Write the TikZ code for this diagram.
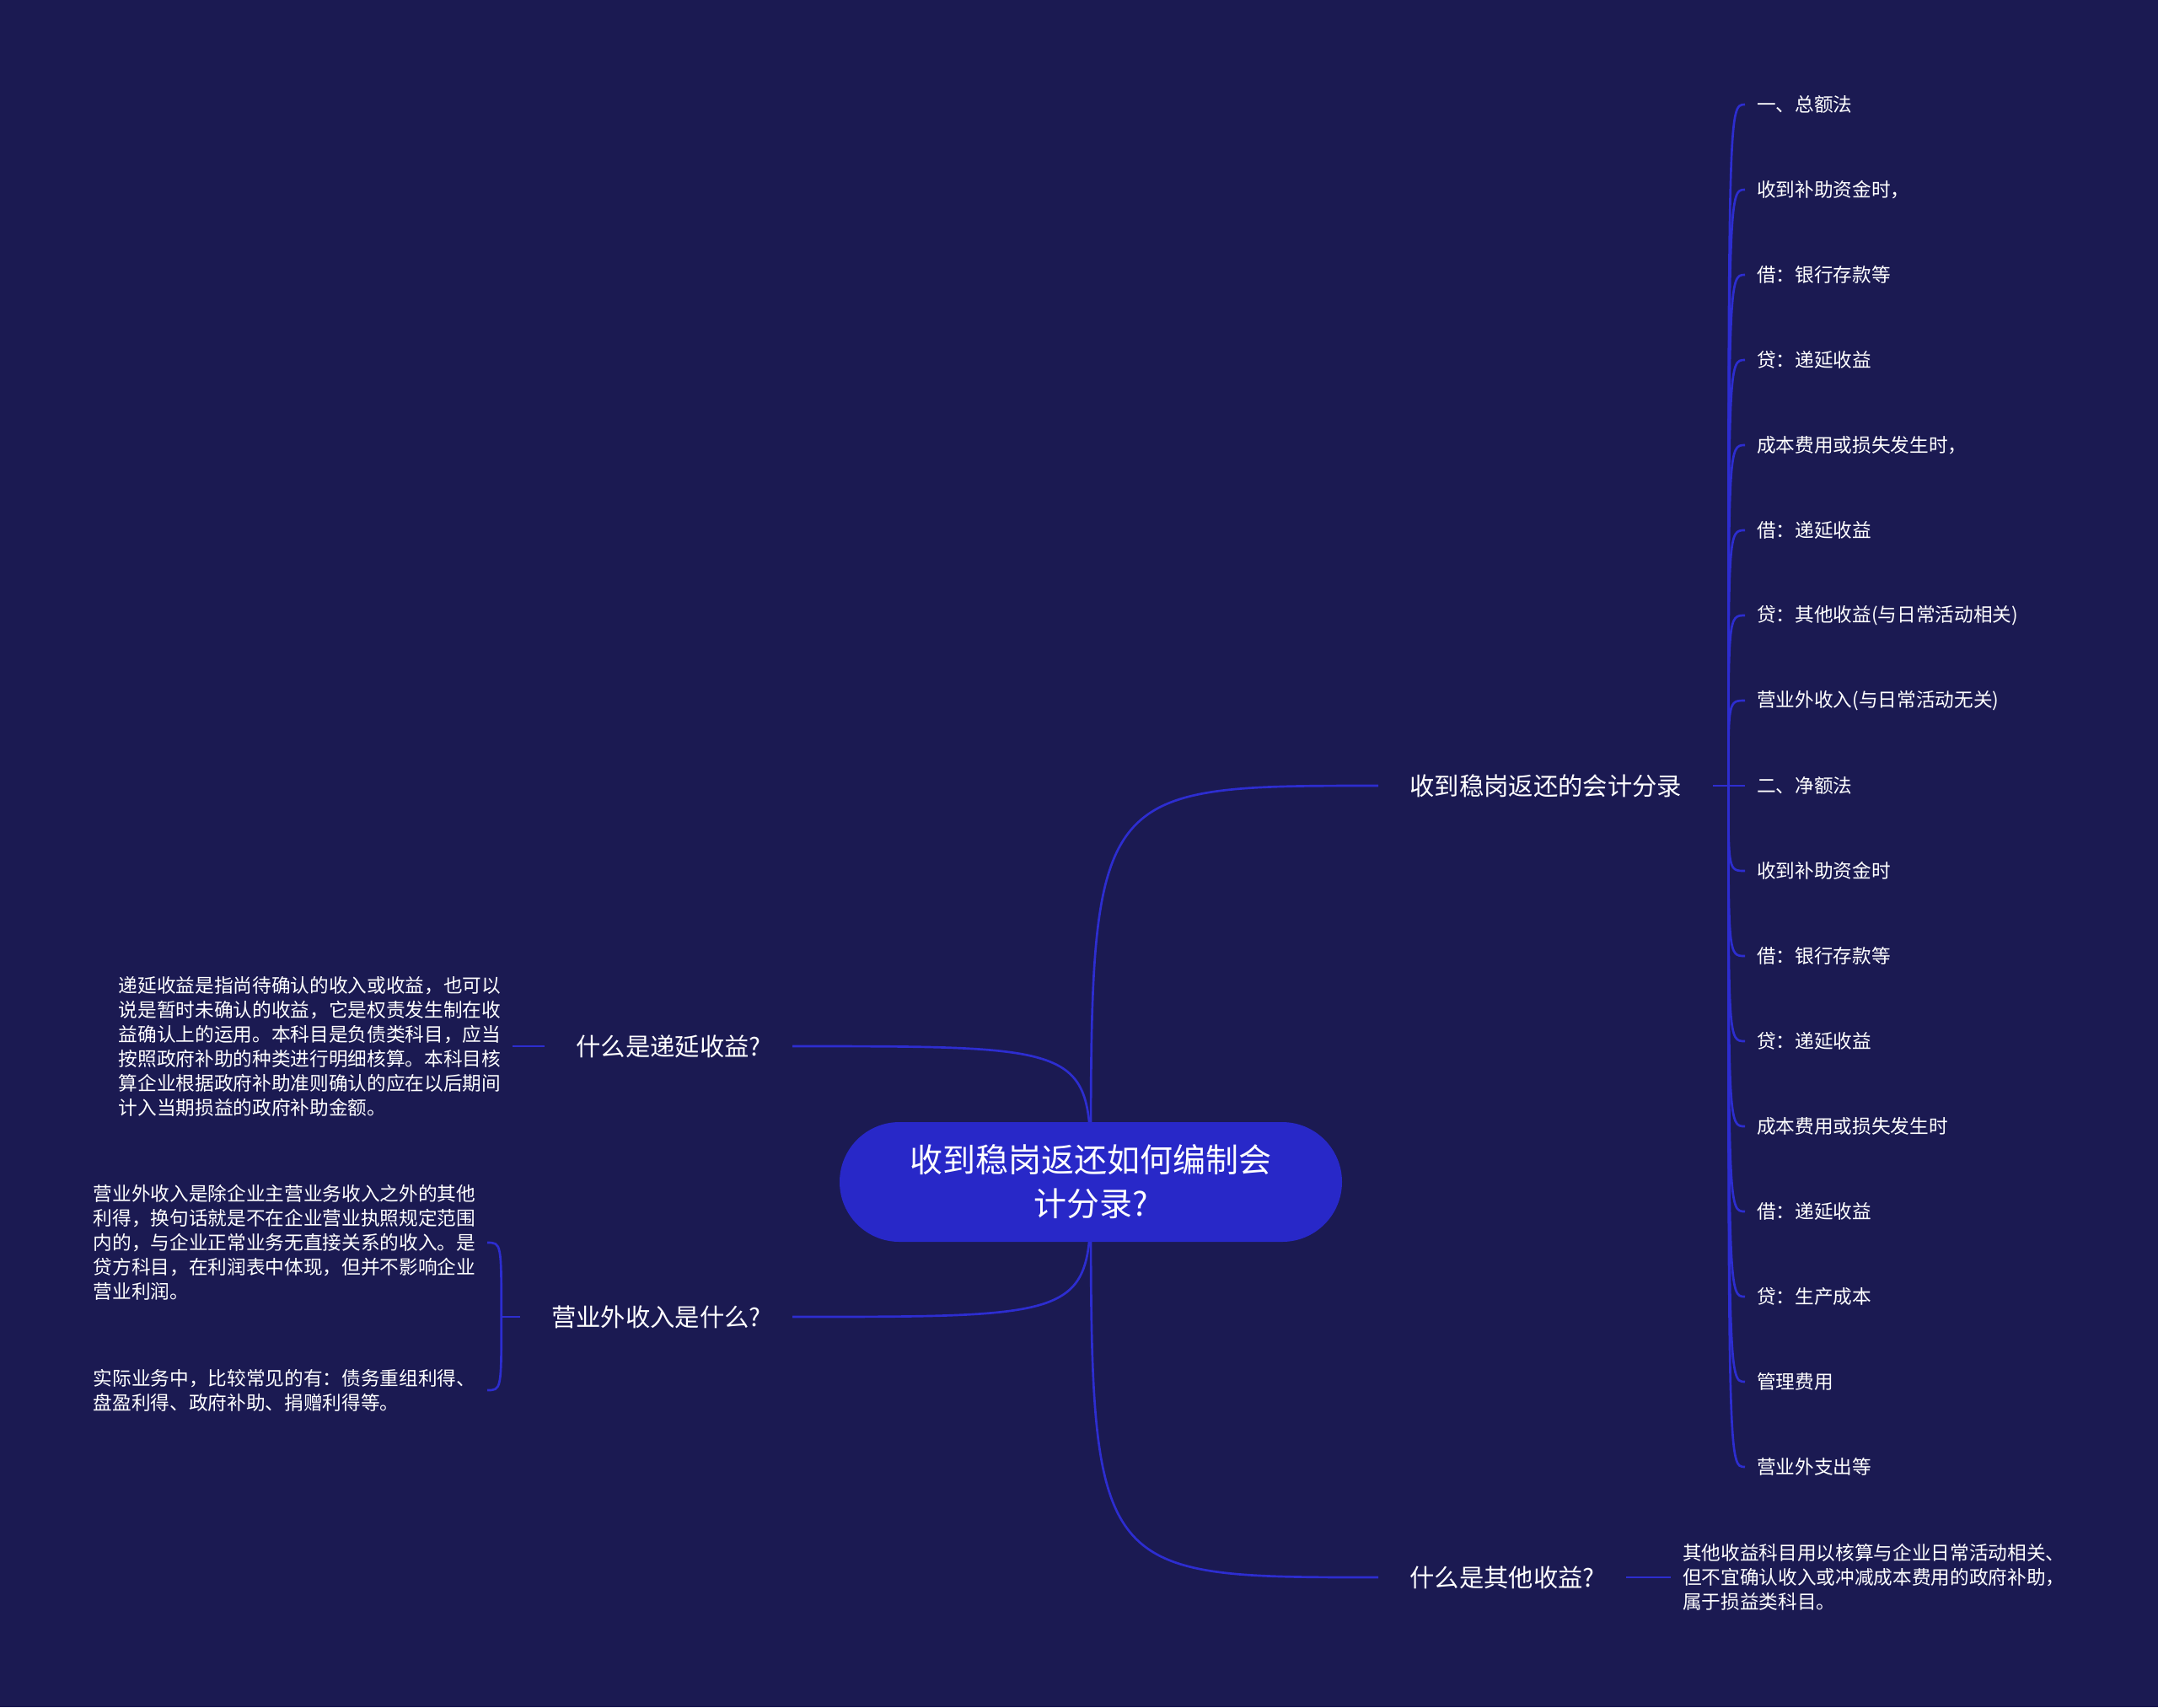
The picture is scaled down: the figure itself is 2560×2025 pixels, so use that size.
\documentclass[tikz,border=0pt]{standalone}
\usepackage{fontspec}
\setmainfont{Noto Sans CJK SC}
\usetikzlibrary{positioning, calc}
\definecolor{bgnavy}{HTML}{1B1A52}
\definecolor{rootblue}{HTML}{2828C8}
\definecolor{linkblue}{HTML}{2D2DD0}

\begin{document}
\begin{tikzpicture}[
  x=0.3pt, y=-0.3pt,
  root/.style={fill=rootblue, text=white, rounded corners=21.3pt, align=center,
               minimum width=178.8pt, minimum height=42.6pt,
               font=\fontsize{11.7}{15.6}\selectfont},
  topic/.style={text=white, inner xsep=11pt, inner ysep=2pt,
                font=\fontsize{8.8}{10.5}\selectfont},
  sub/.style={text=white, anchor=west, inner xsep=4pt, inner ysep=1pt,
              font=\fontsize{6.8}{8.7}\selectfont},
  blk/.style={sub, align=left},
  link/.style={draw=linkblue, line width=0.8pt}
]
  \fill[bgnavy] (0,0) rectangle (2560,2025);
  \coordinate (hub) at (1294,1402);

  % main topics
  \node[topic, anchor=west] (acct)  at (1635,932)  {收到稳岗返还的会计分录};
  \node[topic, anchor=east] (defer) at (940,1241)  {什么是递延收益?};
  \node[topic, anchor=east] (nonop) at (940,1562)  {营业外收入是什么?};
  \node[topic, anchor=west] (other) at (1635,1871) {什么是其他收益?};

  % notes on the left and bottom right
  \node[blk, left=11.4pt of defer] (defblk) {递延收益是指尚待确认的收入或收益，也可以\\
    说是暂时未确认的收益，它是权责发生制在收\\
    益确认上的运用。本科目是负债类科目，应当\\
    按照政府补助的种类进行明细核算。本科目核\\
    算企业根据政府补助准则确认的应在以后期间\\
    计入当期损益的政府补助金额。};
  \coordinate (brk) at ($(nonop.west)+(-22,0)$);
  \node[blk, anchor=east] (nb1) at (578,1474) {营业外收入是除企业主营业务收入之外的其他\\
    利得，换句话就是不在企业营业执照规定范围\\
    内的，与企业正常业务无直接关系的收入。是\\
    贷方科目，在利润表中体现，但并不影响企业\\
    营业利润。};
  \node[blk, anchor=east] (nb2) at (578,1649) {实际业务中，比较常见的有：债务重组利得、\\
    盘盈利得、政府补助、捐赠利得等。};
  \node[blk, right=16pt of other] (othblk) {其他收益科目用以核算与企业日常活动相关、\\
    但不宜确认收入或冲减成本费用的政府补助，\\
    属于损益类科目。};

  % entries under the first topic
  \coordinate (fork) at ($(acct.east)+(18,0)$);
  \foreach \t [count=\i] in {一、总额法, 收到补助资金时，, 借：银行存款等, 贷：递延收益,
      成本费用或损失发生时，, 借：递延收益, 贷：其他收益(与日常活动相关),
      营业外收入(与日常活动无关), 二、净额法, 收到补助资金时, 借：银行存款等,
      贷：递延收益, 成本费用或损失发生时, 借：递延收益, 贷：生产成本, 管理费用,
      营业外支出等} {
    \node[sub] (c\i) at (2070,{124+101*(\i-1)}) {\t};
    \draw[link] (fork) .. controls (fork |- c\i.west) .. (c\i.west);
  }

  \draw[link] (hub) .. controls (hub |- acct.west) .. (acct.west);
  \draw[link] (hub) .. controls (hub |- other.west) .. (other.west);
  \draw[link] (hub) .. controls (hub |- defer.east) .. (defer.east);
  \draw[link] (hub) .. controls (hub |- nonop.east) .. (nonop.east);
  \draw[link] (acct.east) -- (fork);
  \draw[link] (defer.west) -- (defblk.east);
  \draw[link] (nonop.west) -- (brk);
  \draw[link] (brk) .. controls (brk |- nb1.east) .. (nb1.east);
  \draw[link] (brk) .. controls (brk |- nb2.east) .. (nb2.east);
  \draw[link] (other.east) -- (othblk.west);

  \node[root] (root) at (hub) {收到稳岗返还如何编制会\\计分录?};
\end{tikzpicture}
\end{document}
